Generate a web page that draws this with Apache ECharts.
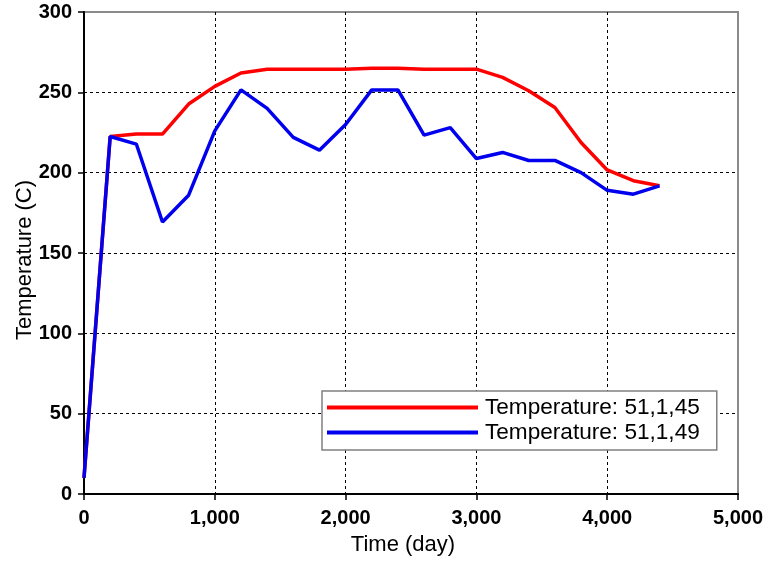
<!DOCTYPE html>
<html>
<head>
<meta charset="utf-8">
<script src="https://cdn.jsdelivr.net/npm/echarts@6/dist/echarts.min.js"></script>
<style>html,body{margin:0;padding:0;background:#fff;}#c{width:770px;height:566px;}</style>
</head>
<body>
<div id="c"></div>
<script>
var days = [0, 200, 400, 600, 800, 1000, 1200, 1400, 1600, 1800, 2000, 2200, 2400, 2600, 2800, 3000, 3200, 3400, 3600, 3800, 4000, 4200, 4400];
var temp45 = [10, 222.5, 224, 224, 242.7, 253.7, 262, 264.4, 264.4, 264.4, 264.4, 265, 265, 264.4, 264.4, 264.4, 259.3, 251, 240.6, 218.8, 201.7, 195, 191.8];
var temp49 = [10, 222.5, 217.8, 169.3, 186, 226, 251.5, 240, 222, 214, 230, 251.5, 251.5, 223.4, 228, 208.8, 212.6, 207.6, 207.6, 200, 189, 186.6, 191.8];
var seriesNames = ['Temperature: 51,1,45', 'Temperature: 51,1,49'];
var xTicks = [0, 1000, 2000, 3000, 4000, 5000];
var yTicks = [0, 50, 100, 150, 200, 250, 300];

function pairs(xs, ys) { return xs.map(function (x, i) { return [x, ys[i]]; }); }

var chart = echarts.init(document.getElementById('c'), null, { renderer: 'canvas' });
var font = 'Liberation Sans, Arial, sans-serif';
chart.setOption({
  animation: false,
  backgroundColor: '#fff',
  grid: { left: 84, top: 12, width: 654, height: 482, outerBoundsMode: 'none', containLabel: false,
    show: true, borderColor: '#8a8a8a', borderWidth: 2, backgroundColor: 'transparent' },
  xAxis: {
    type: 'value', min: xTicks[0], max: xTicks[xTicks.length - 1], interval: 1000,
    name: 'Time (day)', nameLocation: 'middle', nameGap: 40, nameMoveOverlap: false,
    nameTextStyle: { fontFamily: font, fontSize: 22, color: '#000', padding: [0, 16, 0, 0] },
    axisLine: { show: true, onZero: false, lineStyle: { color: '#000', width: 2 } },
    axisTick: { show: true, inside: false, length: 6, lineStyle: { color: '#000', width: 1.5 } },
    axisLabel: { fontFamily: font, fontSize: 20, fontWeight: 'bold', color: '#000', margin: 14,
      formatter: function (v) { return v.toLocaleString('en-US'); } },
    splitLine: { show: true, showMinLine: false, showMaxLine: false, lineStyle: { color: '#000', type: [3, 3], width: 1 } }
  },
  yAxis: {
    type: 'value', min: yTicks[0], max: yTicks[yTicks.length - 1], interval: 50,
    name: 'Temperature (C)', nameLocation: 'middle', nameGap: 48, nameMoveOverlap: false,
    nameTextStyle: { fontFamily: font, fontSize: 22, color: '#000', padding: [0, 14, 0, 0] },
    axisLine: { show: true, onZero: false, lineStyle: { color: '#000', width: 2 } },
    axisTick: { show: true, inside: false, length: 6, lineStyle: { color: '#000', width: 1.5 } },
    axisLabel: { fontFamily: font, fontSize: 20, fontWeight: 'bold', color: '#000', margin: 12 },
    splitLine: { show: true, showMinLine: false, showMaxLine: false, lineStyle: { color: '#000', type: [3, 3], width: 1 } }
  },
  legend: {
    orient: 'vertical', left: 322, top: 391,
    icon: 'rect', itemWidth: 151, itemHeight: 4, itemGap: 0,
    padding: [4, 17, 5, 5],
    backgroundColor: '#fff', borderColor: '#808080', borderWidth: 1.5,
    textStyle: { fontFamily: font, fontSize: 22.6, color: '#000', lineHeight: 25, padding: [0, 0, 0, 2] },
    data: seriesNames
  },
  series: [
    { name: seriesNames[0], type: 'line', data: pairs(days, temp45), showSymbol: false, symbol: 'none',
      lineStyle: { color: '#ff0000', width: 3.5 }, itemStyle: { color: '#ff0000' } },
    { name: seriesNames[1], type: 'line', data: pairs(days, temp49), showSymbol: false, symbol: 'none',
      lineStyle: { color: '#0000ee', width: 3.5 }, itemStyle: { color: '#0000ee' } }
  ]
});
</script>
</body>
</html>
